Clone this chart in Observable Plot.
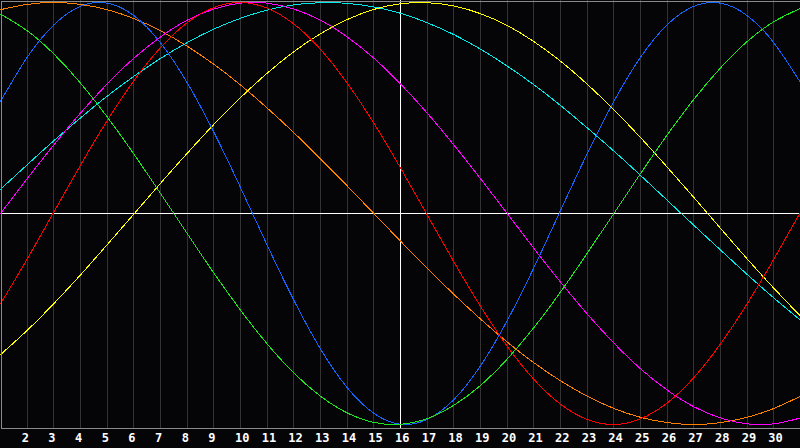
<!DOCTYPE html>
<html>
<head>
<meta charset="utf-8">
<script src="https://cdn.jsdelivr.net/npm/d3@7"></script>
<script src="https://cdn.jsdelivr.net/npm/@observablehq/plot@0.6"></script>
<style>
  html, body { margin: 0; padding: 0; background: #050508; }
  #chart { width: 800px; height: 448px; overflow: hidden; }
</style>
</head>
<body>
<div id="chart"></div>
<script>
// Days of the month shown (x), labelled ticks, and the "today" marker
const days = [1,2,3,4,5,6,7,8,9,10,11,12,13,14,15,16,17,18,19,20,21,22,23,24,25,26,27,28,29,30,31];
const tickDays = [2,3,4,5,6,7,8,9,10,11,12,13,14,15,16,17,18,19,20,21,22,23,24,25,26,27,28,29,30];
const today = 16;

// Cycle values (percent, -100..100), one per day
const physical  = [53.1,74.0,89.4,98.2,99.7,93.8,80.9,62.0,38.6,12.3,-15.0,-41.1,-64.2,-82.5,-94.7,-99.9,-97.6,-88.2,-72.2,-50.8,-25.7,1.4,28.3,53.1,74.0,89.4,98.2,99.7,93.8,80.9,62.0];
const emotional = [-42.8,-21.6,0.7,22.9,44.0,62.9,78.6,90.4,97.6,100,97.3,89.8,77.8,61.8,42.8,21.6,-0.7,-22.9,-44.0,-62.9,-78.6,-90.4,-97.6,-100,-97.3,-89.8,-77.8,-61.8,-42.8,-21.6,0.7];
const intellect = [94.5,86.6,75.6,61.8,45.8,28.2,9.5,-9.5,-28.2,-45.8,-61.8,-75.6,-86.6,-94.5,-99.0,-99.9,-97.2,-90.9,-81.5,-69.0,-54.1,-37.2,-18.9,0,18.9,37.2,54.1,69.0,81.5,90.9,97.2];
const intuition = [0,16.5,32.5,47.6,61.4,73.6,83.7,91.6,96.9,99.7,99.7,96.9,91.6,83.7,73.6,61.4,47.6,32.5,16.5,0,-16.5,-32.5,-47.6,-61.4,-73.6,-83.7,-91.6,-96.9,-99.7,-99.7,-96.9];
const aesthetic = [-66.9,-55.4,-42.7,-29.1,-14.8,-0.3,14.3,28.5,42.2,54.9,66.5,76.7,85.2,91.9,96.7,99.4,99.9,98.4,94.7,89.1,81.5,72.2,61.3,49.2,36.0,22.0,7.6,-7.0,-21.5,-35.4,-48.7];
const awareness = [96.6,99.1,100,99.1,96.6,92.4,86.6,79.3,70.7,60.9,50,38.3,25.9,13.1,0,-13.1,-25.9,-38.3,-50,-60.9,-70.7,-79.3,-86.6,-92.4,-96.6,-99.1,-100,-99.1,-96.6,-92.4,-86.6];
const spiritual = [11.5,23.1,34.5,45.3,55.6,65.0,73.5,81.0,87.4,92.5,96.4,98.9,99.9,99.6,97.9,94.9,90.4,84.8,77.9,69.9,61.0,51.2,40.6,29.6,18.1,6.3,-5.6,-17.3,-28.9,-40.0,-50.6];

const series = [
  {values: awareness, color: "#ff8000"},
  {values: spiritual, color: "#00e8e8"},
  {values: aesthetic, color: "#ffff00"},
  {values: intuition, color: "#ff00ff"},
  {values: emotional, color: "#ff0000"},
  {values: physical,  color: "#1464ff"},
  {values: intellect, color: "#1ee61e"}
];

const lines = series.map(s => Plot.line(days, {
  x: d => d,
  y: (d, i) => s.values[i],
  stroke: s.color,
  strokeWidth: 1,
  curve: "natural",
  shapeRendering: "crispEdges"
}));

const chart = Plot.plot({
  width: 800,
  height: 448,
  marginLeft: 0,
  marginRight: 0,
  marginTop: 0,
  marginBottom: 20,
  style: {background: "#050508", overflow: "visible"},
  x: {domain: [1, 31], range: [0, 800]},
  y: {domain: [-100, 100], range: [424, 2], axis: null},
  marks: [
    Plot.ruleX(tickDays, {stroke: "#333333", strokeWidth: 1, shapeRendering: "crispEdges"}),
    Plot.ruleY([0], {stroke: "#ffffff", strokeWidth: 1, shapeRendering: "crispEdges"}),
    Plot.ruleX([today], {stroke: "#ffffff", strokeWidth: 1, shapeRendering: "crispEdges"}),
    ...lines,
    Plot.frame({stroke: "#8a8a8a", inset: 0.5, shapeRendering: "crispEdges"}),
    Plot.axisX(tickDays, {
      tickSize: 0,
      tickPadding: 5,
      textAnchor: "start",
      dx: -5.5,
      fill: "#ffffff",
      fontSize: 12,
      fontWeight: "bold",
      fontFamily: "DejaVu Sans Mono",
      label: null,
      tickFormat: d => String(d)
    })
  ]
});

document.getElementById("chart").appendChild(chart);
</script>
</body>
</html>
